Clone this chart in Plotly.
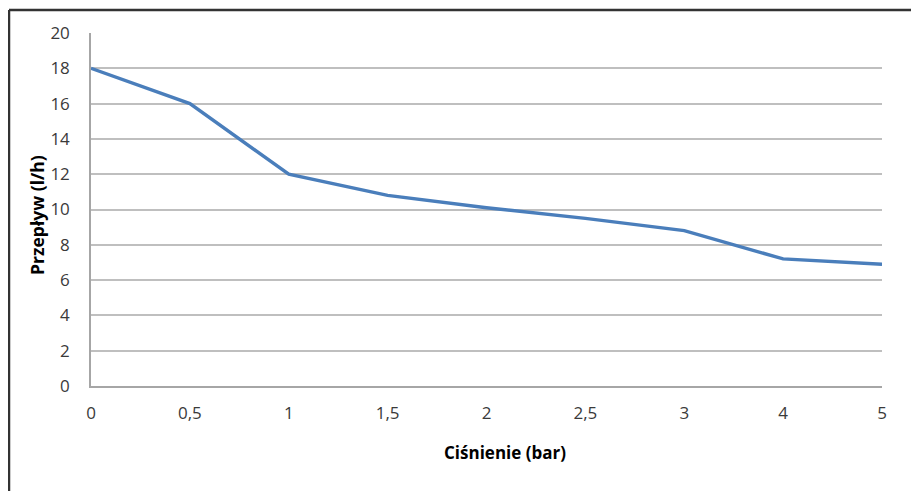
import plotly.graph_objects as go

cisnienie = ["0", "0,5", "1", "1,5", "2", "2,5", "3", "4", "5"]
przeplyw = [18, 16, 12, 10.8, 10.1, 9.5, 8.8, 7.2, 6.9]
y_ticks = list(range(0, 21, 2))

# page body has an 8px margin; figure is offset by (8, 8)
OFF = 8
W, H = 919 - OFF, 491 - OFF
L, R, T, B = 91 - OFF, 37, 33 - OFF, 105
pw, ph = W - L - R, H - T - B

def px_x(p):
    return (p - OFF - L) / pw

def px_y(p):
    return (H - B - (p - OFF)) / ph

fig = go.Figure()
fig.add_trace(go.Scatter(
    x=cisnienie, y=przeplyw, mode="lines",
    line=dict(color="#4A7EBB", width=3.4),
    showlegend=False, hoverinfo="x+y",
))

font_family = "Open Sans, Liberation Sans, sans-serif"

fig.update_layout(
    width=W, height=H,
    margin=dict(l=L, r=R, t=T, b=B),
    paper_bgcolor="white", plot_bgcolor="white",
    font=dict(family=font_family, size=17, color="#3a3a3a"),
    xaxis=dict(
        type="category", range=[0, len(cisnienie) - 1],
        showgrid=False, showline=True, linecolor="#A6A6A6", linewidth=1.5,
        ticks="outside", ticklen=11, tickcolor="rgba(0,0,0,0)",
        tickfont=dict(size=17, color="#3a3a3a"),
        zeroline=False,
    ),
    yaxis=dict(
        range=[0, 20], tickvals=y_ticks,
        showgrid=True, gridcolor="#BFBFBF", gridwidth=1.5,
        showline=True, linecolor="#A6A6A6", linewidth=1.5,
        ticks="outside", ticklen=16, tickcolor="rgba(0,0,0,0)",
        tickfont=dict(size=17, color="#3a3a3a"),
        zeroline=False,
    ),
    annotations=[
        dict(text="<b>Ciśnienie (bar)</b>", xref="paper", yref="paper",
             x=px_x(505), y=px_y(453), showarrow=False,
             font=dict(size=17, color="#000000", family=font_family),
             xanchor="center", yanchor="middle"),
        dict(text="<b>Przepływ (l/h)</b>", xref="paper", yref="paper",
             x=px_x(37), y=px_y(215), showarrow=False, textangle=-90,
             font=dict(size=17.5, color="#000000", family=font_family),
             xanchor="center", yanchor="middle"),
    ],
    shapes=[
        dict(type="line", xref="paper", yref="paper",
             x0=px_x(9), x1=px_x(9), y0=px_y(491), y1=px_y(10),
             line=dict(color="#333333", width=2.5)),
        dict(type="line", xref="paper", yref="paper",
             x0=px_x(9), x1=px_x(919), y0=px_y(10), y1=px_y(10),
             line=dict(color="#333333", width=2.5)),
    ],
)

fig.write_html("out.html")
